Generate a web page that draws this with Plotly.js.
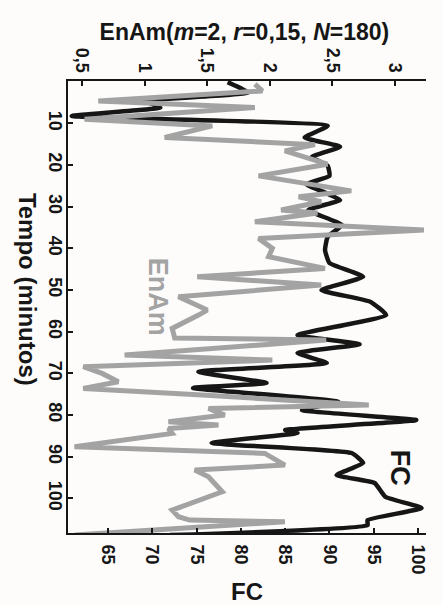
<!DOCTYPE html>
<html><head><meta charset="utf-8">
<script src="https://cdn.plot.ly/plotly-3.0.1.min.js"></script>
<style>html,body{margin:0;padding:0;background:#fdfcfa;} #chart{width:442px;height:605px;}</style>
</head><body><div id="chart"></div>
<script>
// FC (heart rate) series: time (min) and value
const fcTime  = [0.1, 2.6, 4.6, 6.2, 8.2, 10.6, 13.4, 15.6, 18.1, 20.2, 22.6, 24.6, 26.6, 28.4, 30.8, 34.4, 37.2, 40.4, 43.5, 46.8, 50.0, 52.8, 56.0, 60.8, 63.0, 65.1, 67.5, 69.6, 72.3, 73.5, 76.8, 78.8, 81.2, 83.6, 84.3, 86.7, 89.1, 91.5, 94.4, 96.3, 99.6, 102.3, 105.2, 106.4, 108.8];
const fcValue = [78.5, 80.8, 69.2, 70.9, 60.9, 89.8, 87.2, 91.2, 88.0, 89.8, 90.0, 87.4, 89.5, 91.2, 87.6, 91.4, 89.8, 89.5, 90.0, 93.8, 89.1, 94.6, 96.4, 86.4, 93.4, 86.4, 89.7, 75.2, 82.9, 74.6, 91.0, 86.9, 99.8, 85.0, 86.4, 76.7, 92.5, 93.8, 90.8, 95.1, 96.3, 100.4, 94.3, 94.3, 72.0];

// EnAm (approximate entropy) series
const enamTime  = [0.6, 2.2, 4.6, 6.2, 9.0, 10.6, 13.4, 15.1, 16.6, 19.8, 22.6, 26.2, 27.6, 28.8, 30.8, 31.5, 33.6, 35.6, 37.6, 40.0, 42.0, 44.8, 46.8, 48.8, 51.6, 54.8, 56.0, 59.2, 61.5, 62.0, 65.6, 66.8, 68.4, 70.0, 72.0, 73.6, 75.2, 76.8, 77.6, 78.4, 80.0, 81.6, 82.4, 83.2, 84.4, 87.6, 89.2, 92.0, 93.2, 94.8, 98.4, 102.8, 104.4, 105.2, 105.6, 108.8];
const enamValue = [1.88, 1.94, 0.63, 1.88, 0.52, 1.54, 1.16, 2.36, 2.12, 2.46, 1.91, 2.65, 2.23, 2.41, 2.09, 2.38, 1.88, 3.23, 1.91, 2.02, 1.99, 2.44, 1.42, 2.41, 1.27, 1.50, 1.43, 1.22, 1.24, 2.45, 0.84, 2.02, 0.51, 0.66, 0.79, 0.51, 1.46, 2.33, 2.79, 1.51, 1.64, 1.19, 1.59, 1.19, 1.22, 0.44, 1.96, 2.12, 1.40, 1.51, 1.62, 1.22, 1.27, 1.36, 2.12, 0.44];

const timeTicks = [10, 20, 30, 40, 50, 60, 70, 80, 90, 100];
const fcTicks = [65, 70, 75, 80, 85, 90, 95, 100];
const enamTicks = [0.5, 1, 1.5, 2, 2.5, 3];
const enamTickText = ["0,5", "1", "1,5", "2", "2,5", "3"];

const FONT = 'Liberation Sans, Arial, Helvetica, sans-serif';
const INK = '#161616';
const GRAY = '#a3a3a3';

const traces = [
  {x: enamValue, y: enamTime, xaxis: 'x2', yaxis: 'y', mode: 'lines', name: 'EnAm',
   line: {color: GRAY, width: 5, shape: 'linear'}, hoverinfo: 'skip'},
  {x: fcValue, y: fcTime, xaxis: 'x', yaxis: 'y', mode: 'lines', name: 'FC',
   line: {color: INK, width: 4.5, shape: 'spline', smoothing: 0.4}, hoverinfo: 'skip'}
];

const axisCommon = {
  showgrid: false, zeroline: false, showline: true, linewidth: 2, linecolor: INK,
  ticks: 'inside', ticklen: 5, tickwidth: 2, tickcolor: INK, tickangle: 90,
  tickfont: {family: FONT, size: 18, color: INK, weight: 'bold'}
};

const layout = {
  width: 442, height: 605,
  margin: {l: 68, r: 16, t: 81, b: 72},
  paper_bgcolor: '#fdfcfa', plot_bgcolor: '#fdfcfa',
  showlegend: false,
  font: {family: FONT, color: INK},
  title: {text: '<b>EnAm(<i>m</i>=2, <i>r</i>=0,15, <i>N</i>=180)</b>', font: {family: FONT, size: 23, color: INK},
          xref: 'container', x: 0.553, xanchor: 'center', yref: 'container', y: 0.948, yanchor: 'middle'},
  xaxis: Object.assign({}, axisCommon, {
    range: [60.48, 100.9], tickvals: fcTicks, ticklabelstandoff: 6,
    title: {text: '<b>FC</b>', font: {family: FONT, size: 24, color: INK}, standoff: 10}
  }),
  xaxis2: Object.assign({}, axisCommon, {
    overlaying: 'x', side: 'top', anchor: 'y',
    range: [0.388, 3.247], tickvals: enamTicks, ticktext: enamTickText, ticklabelstandoff: 0
  }),
  yaxis: Object.assign({}, axisCommon, {
    range: [108.3, -0.17], tickvals: timeTicks, ticklabelstandoff: -5
  }),
  annotations: [
    {text: '<b>Tempo (minutos)</b>', xref: 'paper', yref: 'paper', x: -0.158, y: 0.538,
     textangle: 90, showarrow: false, font: {family: FONT, size: 24, color: INK}},
    {text: '<b>EnAm</b>', xref: 'paper', yref: 'paper', x: 0.205, y: 0.522,
     textangle: 90, showarrow: false, font: {family: FONT, size: 27, color: GRAY}},
    {text: '<b>FC</b>', xref: 'paper', yref: 'paper', x: 0.975, y: 0.1,
     textangle: 90, showarrow: false, font: {family: FONT, size: 27, color: INK}}
  ]
};

Plotly.newPlot('chart', traces, layout, {displayModeBar: false, staticPlot: true});
</script>
</body></html>
